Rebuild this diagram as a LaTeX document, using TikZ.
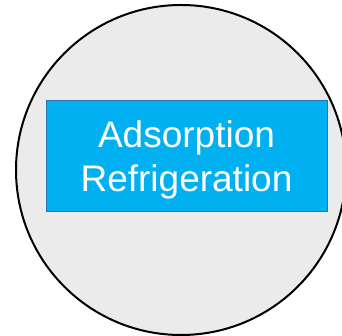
\documentclass[tikz,border=0pt]{standalone}
\usepackage{fontspec}
\setmainfont{Liberation Sans}
\usepackage{tikz}

\definecolor{discgray}{HTML}{EBEBEB}
\definecolor{boxcyan}{HTML}{00B0F0}
\definecolor{boxedge}{HTML}{2E75B6}

\begin{document}
\begin{tikzpicture}[x=1pt,y=1pt]
\useasboundingbox (0,0) rectangle (342,336);
\draw [line width=2pt, fill=discgray] (181,166) circle (165);
\node [draw=boxedge, line width=1pt, fill=boxcyan, text=white, inner sep=0pt,
  minimum width=281pt, minimum height=111pt, align=center, text depth=0pt,
  font=\fontsize{37}{44}\selectfont] (process) at (186.5,179.5)
  {Adsorption\\Refrigeration};
\end{tikzpicture}
\end{document}
